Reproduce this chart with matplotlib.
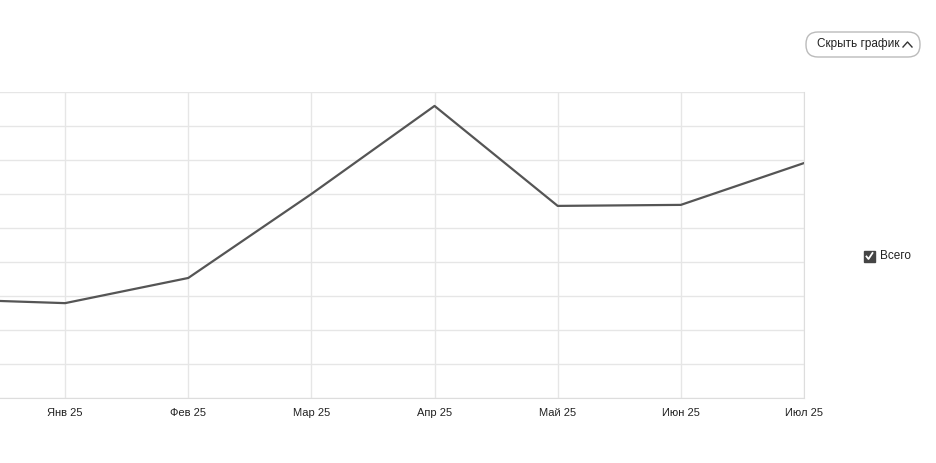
import matplotlib
matplotlib.use("Agg")
import matplotlib.pyplot as plt
from matplotlib.patches import FancyBboxPatch

plt.rcParams['font.family'] = ['Liberation Sans', 'DejaVu Sans']

months = ["Дек 24", "Янв 25", "Фев 25", "Мар 25", "Апр 25", "Май 25", "Июн 25", "Июл 25"]
values = [2.91, 2.79, 3.53, 6.0, 8.59, 5.65, 5.68, 6.91]

W, H = 936, 463
fig = plt.figure(figsize=(W/100, H/100), dpi=100)
ax = fig.add_axes([0, (H-398)/H, 804/W, (398-92)/H])
x = list(range(len(months)))
ax.plot(x, values, color="#555555", lw=1.6)
ax.set_xlim(1 - 65/123, 7)
ax.set_ylim(0, 9)
ax.set_yticks(range(10))
ax.set_xticks(x[1:])
ax.set_xticklabels(months[1:], fontsize=8, color="#222222")
ax.tick_params(axis="both", length=0)
ax.tick_params(axis="x", pad=7)
ax.set_yticklabels([])
ax.grid(True, color="#e6e6e6", lw=1)
for s in ["left", "top"]:
    ax.spines[s].set_visible(False)
for s in ["right", "bottom"]:
    ax.spines[s].set_color("#dddddd")

# legend checkbox
fig.patches.append(FancyBboxPatch((864/W, (H-262)/H), 11/W, 11/H, boxstyle="square,pad=0",
                                  transform=fig.transFigure, facecolor="#444444", edgecolor="#444444"))
fig.lines.append(plt.Line2D([866.5/W, 868.5/W, 872.5/W], [(H-256.5)/H, (H-259)/H, (H-253)/H],
                            transform=fig.transFigure, color="white", lw=1.3))
fig.text(880/W, (H-256)/H, "Всего", fontsize=8.5, va="center", color="#222222")

# button
fig.patches.append(FancyBboxPatch((806/W, (H-57)/H), 114/W, 25/H, boxstyle="round,pad=0,rounding_size=12",
                                  transform=None, facecolor="white", edgecolor="#bbbbbb", lw=1))
fig.patches[-1].set_bounds(806, H-57, 114, 25)
fig.text(817/W, (H-44.5)/H, "Скрыть график", fontsize=8.5, va="center", color="#222222")
fig.lines.append(plt.Line2D([903/W, 907.5/W, 912/W], [(H-47)/H, (H-42)/H, (H-47)/H],
                            transform=fig.transFigure, color="#333333", lw=1))
fig.savefig("out.png", dpi=100)
